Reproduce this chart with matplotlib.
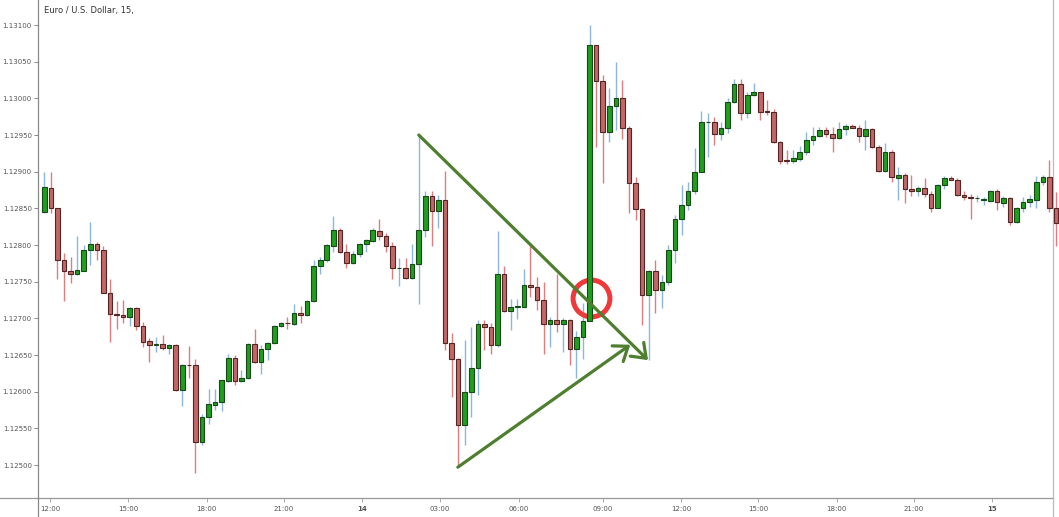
import numpy as np
import matplotlib.pyplot as plt
from matplotlib.lines import Line2D

# EUR/USD 15 min candles
opens = np.array([
    1.12845, 1.12878, 1.12851, 1.12780, 1.12764, 1.12761, 1.12765, 1.12793, 1.12802, 1.12793,
    1.12735, 1.12706, 1.12705, 1.12702, 1.12714, 1.12690, 1.12669, 1.12664, 1.12665, 1.12659,
    1.12664, 1.12602, 1.12637, 1.12636, 1.12532, 1.12566, 1.12582, 1.12586, 1.12615, 1.12646,
    1.12615, 1.12618, 1.12665, 1.12641, 1.12658, 1.12666, 1.12689, 1.12694, 1.12692, 1.12707,
    1.12705, 1.12723, 1.12771, 1.12779, 1.12799, 1.12821, 1.12791, 1.12775, 1.12788, 1.12801,
    1.12806, 1.12819, 1.12812, 1.12799, 1.12768, 1.12768, 1.12755, 1.12774, 1.12821, 1.12867,
    1.12847, 1.12862, 1.12667, 1.12644, 1.12555, 1.12599, 1.12632, 1.12692, 1.12688, 1.12664,
    1.12760, 1.12710, 1.12716, 1.12716, 1.12746, 1.12743, 1.12725, 1.12692, 1.12698, 1.12692,
    1.12698, 1.12658, 1.12674, 1.12697, 1.13073, 1.13024, 1.12954, 1.12990, 1.13000, 1.12959,
    1.12885, 1.12849, 1.12732, 1.12765, 1.12738, 1.12750, 1.12793, 1.12836, 1.12854, 1.12874,
    1.12900, 1.12968, 1.12968, 1.12951, 1.12959, 1.12995, 1.13020, 1.12980, 1.13005, 1.13008,
    1.12983, 1.12982, 1.12940, 1.12916, 1.12915, 1.12917, 1.12927, 1.12943, 1.12949, 1.12957,
    1.12951, 1.12946, 1.12958, 1.12962, 1.12960, 1.12948, 1.12958, 1.12934, 1.12901, 1.12927,
    1.12892, 1.12895, 1.12877, 1.12873, 1.12878, 1.12870, 1.12851, 1.12882, 1.12892, 1.12889,
    1.12868, 1.12866, 1.12864, 1.12862, 1.12860, 1.12873, 1.12857, 1.12864, 1.12832, 1.12850,
    1.12859, 1.12862, 1.12886, 1.12893, 1.12851])
highs = np.array([
    1.12899, 1.12900, 1.12851, 1.12789, 1.12784, 1.12812, 1.12800, 1.12832, 1.12804, 1.12798,
    1.12754, 1.12723, 1.12725, 1.12716, 1.12716, 1.12695, 1.12673, 1.12675, 1.12677, 1.12665,
    1.12665, 1.12638, 1.12662, 1.12645, 1.12570, 1.12603, 1.12603, 1.12616, 1.12651, 1.12650,
    1.12630, 1.12667, 1.12685, 1.12664, 1.12668, 1.12691, 1.12695, 1.12702, 1.12720, 1.12717,
    1.12725, 1.12780, 1.12783, 1.12802, 1.12840, 1.12823, 1.12801, 1.12792, 1.12803, 1.12808,
    1.12823, 1.12836, 1.12816, 1.12804, 1.12782, 1.12782, 1.12801, 1.12950, 1.12873, 1.12874,
    1.12868, 1.12901, 1.12680, 1.12646, 1.12670, 1.12688, 1.12698, 1.12698, 1.12693, 1.12819,
    1.12772, 1.12727, 1.12727, 1.12767, 1.12798, 1.12757, 1.12749, 1.12702, 1.12761, 1.12701,
    1.12699, 1.12683, 1.12721, 1.13100, 1.13073, 1.13032, 1.13014, 1.13050, 1.13025, 1.12962,
    1.12893, 1.12850, 1.12766, 1.12780, 1.12759, 1.12800, 1.12841, 1.12882, 1.12886, 1.12932,
    1.12983, 1.12980, 1.12975, 1.12968, 1.13000, 1.13027, 1.13026, 1.13009, 1.13021, 1.13009,
    1.12998, 1.12986, 1.12942, 1.12929, 1.12930, 1.12935, 1.12954, 1.12961, 1.12961, 1.12961,
    1.12961, 1.12968, 1.12965, 1.12965, 1.12964, 1.12970, 1.12959, 1.12936, 1.12939, 1.12930,
    1.12906, 1.12898, 1.12895, 1.12880, 1.12891, 1.12873, 1.12883, 1.12894, 1.12894, 1.12891,
    1.12873, 1.12870, 1.12868, 1.12865, 1.12875, 1.12876, 1.12867, 1.12865, 1.12852, 1.12865,
    1.12868, 1.12894, 1.12896, 1.12916, 1.12872])
lows = np.array([
    1.12844, 1.12844, 1.12753, 1.12724, 1.12748, 1.12759, 1.12764, 1.12773, 1.12780, 1.12735,
    1.12668, 1.12686, 1.12693, 1.12689, 1.12684, 1.12661, 1.12641, 1.12654, 1.12657, 1.12651,
    1.12601, 1.12580, 1.12618, 1.12489, 1.12527, 1.12556, 1.12575, 1.12573, 1.12613, 1.12609,
    1.12613, 1.12617, 1.12639, 1.12624, 1.12643, 1.12665, 1.12688, 1.12686, 1.12691, 1.12693,
    1.12703, 1.12722, 1.12761, 1.12777, 1.12791, 1.12789, 1.12768, 1.12774, 1.12784, 1.12791,
    1.12804, 1.12807, 1.12791, 1.12754, 1.12744, 1.12753, 1.12754, 1.12720, 1.12811, 1.12799,
    1.12823, 1.12657, 1.12593, 1.12498, 1.12527, 1.12566, 1.12596, 1.12657, 1.12652, 1.12661,
    1.12709, 1.12684, 1.12699, 1.12715, 1.12729, 1.12711, 1.12652, 1.12661, 1.12682, 1.12654,
    1.12636, 1.12618, 1.12645, 1.12696, 1.12934, 1.12885, 1.12941, 1.12957, 1.12944, 1.12843,
    1.12834, 1.12691, 1.12643, 1.12707, 1.12714, 1.12745, 1.12775, 1.12814, 1.12848, 1.12870,
    1.12899, 1.12920, 1.12936, 1.12943, 1.12953, 1.12994, 1.12971, 1.12973, 1.13003, 1.12971,
    1.12977, 1.12939, 1.12911, 1.12910, 1.12912, 1.12915, 1.12923, 1.12936, 1.12947, 1.12947,
    1.12927, 1.12945, 1.12950, 1.12959, 1.12941, 1.12930, 1.12932, 1.12900, 1.12900, 1.12886,
    1.12862, 1.12857, 1.12867, 1.12867, 1.12865, 1.12845, 1.12851, 1.12876, 1.12888, 1.12867,
    1.12862, 1.12836, 1.12858, 1.12855, 1.12858, 1.12848, 1.12852, 1.12827, 1.12830, 1.12845,
    1.12852, 1.12850, 1.12882, 1.12845, 1.12798])
closes = np.array([
    1.12879, 1.12851, 1.12780, 1.12764, 1.12761, 1.12766, 1.12793, 1.12802, 1.12793, 1.12735,
    1.12706, 1.12704, 1.12702, 1.12714, 1.12690, 1.12668, 1.12664, 1.12665, 1.12659, 1.12664,
    1.12602, 1.12637, 1.12636, 1.12532, 1.12566, 1.12583, 1.12586, 1.12616, 1.12646, 1.12615,
    1.12619, 1.12665, 1.12641, 1.12658, 1.12666, 1.12690, 1.12694, 1.12693, 1.12707, 1.12705,
    1.12723, 1.12771, 1.12779, 1.12800, 1.12821, 1.12791, 1.12775, 1.12788, 1.12801, 1.12807,
    1.12820, 1.12812, 1.12799, 1.12768, 1.12769, 1.12755, 1.12774, 1.12821, 1.12867, 1.12847,
    1.12862, 1.12667, 1.12644, 1.12555, 1.12599, 1.12632, 1.12692, 1.12688, 1.12664, 1.12760,
    1.12710, 1.12716, 1.12717, 1.12745, 1.12743, 1.12725, 1.12692, 1.12698, 1.12692, 1.12698,
    1.12658, 1.12674, 1.12697, 1.13073, 1.13024, 1.12954, 1.12990, 1.13000, 1.12959, 1.12884,
    1.12849, 1.12732, 1.12765, 1.12738, 1.12750, 1.12793, 1.12836, 1.12854, 1.12874, 1.12900,
    1.12968, 1.12968, 1.12951, 1.12959, 1.12995, 1.13020, 1.12980, 1.13005, 1.13008, 1.12982,
    1.12981, 1.12940, 1.12915, 1.12915, 1.12918, 1.12927, 1.12943, 1.12949, 1.12957, 1.12951,
    1.12946, 1.12958, 1.12962, 1.12960, 1.12948, 1.12958, 1.12934, 1.12901, 1.12927, 1.12893,
    1.12895, 1.12876, 1.12873, 1.12878, 1.12870, 1.12851, 1.12882, 1.12892, 1.12889, 1.12868,
    1.12866, 1.12864, 1.12864, 1.12862, 1.12873, 1.12858, 1.12864, 1.12832, 1.12851, 1.12859,
    1.12863, 1.12886, 1.12893, 1.12851, 1.12830])

# time axis labels (positions are in candle units)
tick_pos = [0.9, 12.8, 24.7, 36.5, 48.4, 60.2, 72.2, 85.0, 96.9, 108.7, 120.6, 132.4, 144.2]
tick_labels = ['12:00', '15:00', '18:00', '21:00', '14', '03:00', '06:00',
               '09:00', '12:00', '15:00', '18:00', '21:00', '15']
price_ticks = np.arange(1.12500, 1.131001, 0.0005)

# pattern annotation: (candle, price) pairs
upper_line = [(57.0, 1.12950), (91.9, 1.12643)]
lower_line = [(62.95, 1.12497), (89.2, 1.12664)]
breakout = (83.2, 1.12728)

W, H = 1059, 517
fig = plt.figure(figsize=(W / 100, H / 100), dpi=100)
ax = fig.add_axes([38 / W, 19 / H, (1052.7 - 38) / W, 498 / H])

x = np.arange(len(opens))
up = closes >= opens

# wicks
ax.vlines(x, lows, highs, colors=np.where(up, '#8db6de', '#e07c7c'),
          linewidth=1.0, zorder=2, clip_on=False)

# bodies
body_lo = np.minimum(opens, closes)
body_h = np.maximum(np.abs(closes - opens), 0.000004)
bars = ax.bar(x, body_h, bottom=body_lo, width=0.7,
              color=np.where(up, '#1f9e1f', '#c46666'),
              edgecolor=np.where(up, '#184a18', '#552424'),
              linewidth=0.8, zorder=3)
for b in bars:
    b.set_clip_on(False)

# triangle lines with open arrow heads
green = '#4e7f2f'
for (x0, y0), (x1, y1) in [upper_line, lower_line]:
    ax.annotate('', xy=(x1, y1), xytext=(x0, y0),
                arrowprops=dict(arrowstyle='->,head_length=0.92,head_width=0.69',
                                mutation_scale=10, color=green, lw=2.3,
                                shrinkA=0, shrinkB=0),
                zorder=4)

ax.plot(*breakout, marker='o', markersize=26.5, markerfacecolor='none',
        markeredgecolor='#f03a3a', markeredgewidth=3.6, zorder=2.5)

ax.set_xlim(-0.96, 153.5)
ax.set_ylim(1.12455, 1.131341)

ax.set_yticks(price_ticks)
ax.set_yticklabels(['%.5f' % p for p in price_ticks])
ax.set_xticks(tick_pos)
ax.set_xticklabels(tick_labels)
for lab in ax.get_xticklabels():
    if len(lab.get_text()) == 2:
        lab.set_fontweight('bold')

ax.tick_params(axis='y', length=3, width=0.7, pad=1.5, labelsize=5,
               colors='#888', labelcolor='#555')
ax.tick_params(axis='x', length=3, width=0.7, pad=3, labelsize=5,
               colors='#aaa', labelcolor='#555')

ax.spines['top'].set_visible(False)
ax.spines['left'].set_color('#888')
ax.spines['bottom'].set_color('#999')
ax.spines['right'].set_color('#bbb')
for s in ax.spines.values():
    s.set_linewidth(0.9)

# axis lines run on to the edge of the picture
fig.add_artist(Line2D([0, 38 / W], [19 / H, 19 / H], color='#999', lw=0.9))
fig.add_artist(Line2D([38 / W, 38 / W], [0, 19 / H], color='#888', lw=0.9))
fig.add_artist(Line2D([1052.7 / W, 1052.7 / W], [0, 19 / H], color='#bbb', lw=0.9))

ax.text(0.006, 0.978, 'Euro / U.S. Dollar, 15,', transform=ax.transAxes,
        fontsize=6, color='#333', ha='left', va='center')

fig.savefig('out.png', dpi=100)
